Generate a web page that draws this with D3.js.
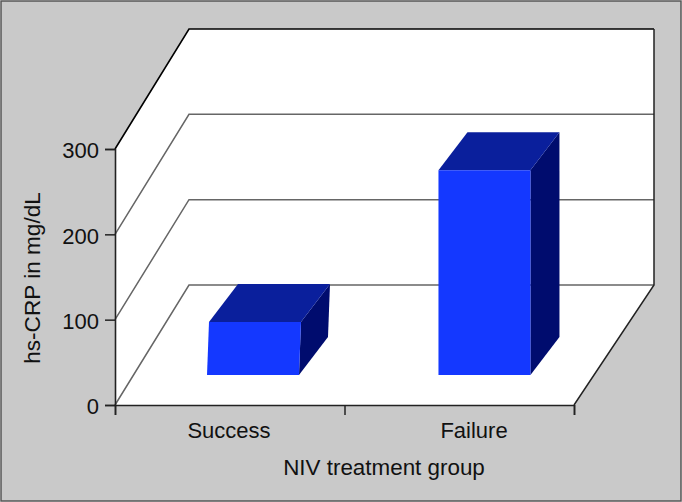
<!DOCTYPE html>
<html>
<head>
<meta charset="utf-8">
<script src="https://cdn.jsdelivr.net/npm/d3@7"></script>
<style>
  html, body { margin: 0; padding: 0; background: #fff; }
  svg { display: block; }
  text { font-family: "Liberation Sans", Arial, sans-serif; fill: #111; }
</style>
</head>
<body>
<svg id="chart"></svg>
<script>
// values
var categories = ["Success", "Failure"];
var crpValues = [62, 240];
var yTicks = [0, 100, 200, 300];
var xAxisTitle = "NIV treatment group";
var yAxisTitle = "hs-CRP in mg/dL";

var width = 682, height = 502;

var svg = d3.select("#chart").attr("width", width).attr("height", height);

svg.append("rect")
    .attr("x", 1).attr("y", 1)
    .attr("width", width - 2).attr("height", height - 2)
    .attr("fill", "#c9c9c9")
    .attr("stroke", "#555").attr("stroke-width", 1.5);

// front plane scales + how far the back plane is shifted
var y = d3.scaleLinear().domain([0, 300]).range([405, 149]);
var xFront = d3.scaleLinear().domain([0, 1]).range([115, 574]);
var xBack = d3.scaleLinear().domain([0, 1]).range([189, 654]);
var depthY = 120;

function project(t, v, z) {
  var xf = xFront(t), xb = xBack(t);
  return [xf + (xb - xf) * z, y(v) - depthY * z];
}

var line = d3.line();

// white walls
svg.append("path")
    .attr("d", line([project(0, 0, 0), project(0, 300, 0), project(0, 300, 1), project(1, 300, 1), project(1, 0, 1), project(1, 0, 0)]) + "Z")
    .attr("fill", "#fff");

// grid
var grid = svg.append("g").attr("fill", "none").attr("stroke", "#666").attr("stroke-width", 1.5);
yTicks.forEach(function(t) {
  var top = t === 300;
  grid.append("path")
      .attr("d", line([project(0, t, 0), project(0, t, 1), project(1, t, 1)]))
      .attr("stroke", top ? "#000" : "#666")
      .attr("stroke-width", top ? 1.6 : 1.5);
});
svg.append("path")
    .attr("d", line([project(1, 300, 1), project(1, 0, 1), project(1, 0, 0)]))
    .attr("fill", "none").attr("stroke", "#222").attr("stroke-width", 1.5);

// bars
var xBand = d3.scaleBand().domain(categories).range([115, 574])
    .paddingInner(0.6026).paddingOuter(0.2928).align(0.51);
var barZ0 = 0.25, barZ1 = 0.567, dxPerZ = 91.5;
var lean = { Success: 2, Failure: 0 };

var bars = svg.append("g").selectAll("g")
    .data(categories.map(function(c, i) { return { name: c, value: crpValues[i] }; }))
    .enter().append("g");

function barPoints(d) {
  var l = xBand(d.name), r = l + xBand.bandwidth();
  var x0 = dxPerZ * barZ0, x1 = dxPerZ * barZ1;
  var y0 = depthY * barZ0, y1 = depthY * barZ1;
  var yb = y(0), yt = y(d.value), s = lean[d.name];
  return {
    fbl: [l + x0, yb - y0], fbr: [r + x0, yb - y0],
    ftl: [l + x0 + s, yt - y0], ftr: [r + x0 + s, yt - y0],
    bbr: [r + x1, yb - y1],
    btl: [l + x1 + s, yt - y1], btr: [r + x1 + s, yt - y1]
  };
}

bars.append("path")
    .attr("fill", "#000c6e")
    .attr("d", function(d) { var p = barPoints(d); return line([p.fbr, p.ftr, p.btr, p.bbr]) + "Z"; });
bars.append("path")
    .attr("fill", "#0a1f9c")
    .attr("d", function(d) { var p = barPoints(d); return line([p.ftl, p.ftr, p.btr, p.btl]) + "Z"; });
bars.append("path")
    .attr("fill", "#1438ff")
    .attr("d", function(d) { var p = barPoints(d); return line([p.fbl, p.ftl, p.ftr, p.fbr]) + "Z"; });

// axes
var yAxis = svg.append("g")
    .attr("transform", "translate(115,0)")
    .call(d3.axisLeft(y).tickValues(yTicks).tickSize(10).tickPadding(6).tickFormat(d3.format("d")));
yAxis.selectAll("text").style("font-size", "22px").attr("dy", "0.4em");

var xTickScale = d3.scalePoint().domain([0, 1, 2]).range([115, 574]);
var xAxis = svg.append("g")
    .attr("transform", "translate(0,405)")
    .call(d3.axisBottom(xTickScale).tickSize(10).tickFormat(""));

svg.selectAll(".domain").attr("stroke", "#222").attr("stroke-width", 1.6);
svg.selectAll(".tick line").attr("stroke", "#222").attr("stroke-width", 1.5);

svg.append("g").selectAll("text")
    .data(categories)
    .enter().append("text")
    .attr("x", function(d) { return d === "Success" ? 229 : 474; })
    .attr("y", 438)
    .attr("text-anchor", "middle")
    .style("font-size", "22px")
    .text(function(d) { return d; });

svg.append("text")
    .attr("x", 384).attr("y", 475)
    .attr("text-anchor", "middle")
    .style("font-size", "22.4px")
    .text(xAxisTitle);

svg.append("text")
    .attr("transform", "translate(40,278) rotate(-90)")
    .attr("text-anchor", "middle")
    .style("font-size", "22.6px")
    .text(yAxisTitle);
</script>
</body>
</html>
